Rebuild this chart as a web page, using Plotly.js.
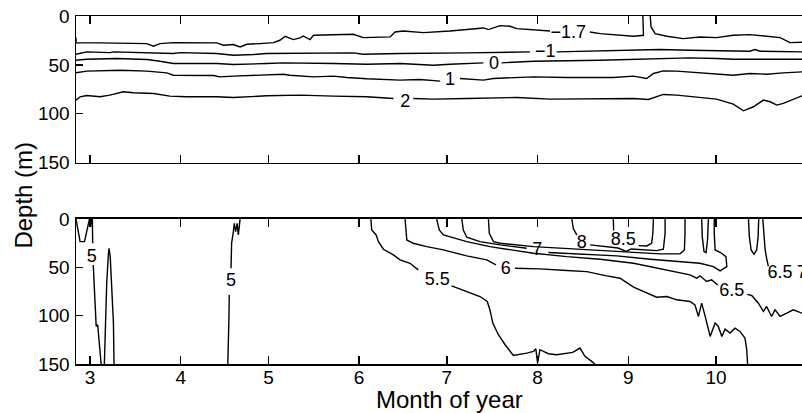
<!DOCTYPE html>
<html>
<head>
<meta charset="utf-8">
<script src="https://cdn.plot.ly/plotly-3.0.1.min.js"></script>
<style>html,body{margin:0;padding:0;background:#fff;overflow:hidden;}#chart{width:802px;height:413px;}</style>
</head>
<body>
<div id="chart"></div>
<script>
// Tick labels: month of year, placed at the day-of-year of each month's first day
const monthLabels = ['3','4','5','6','7','8','9','10'];
const monthStartDoy = [60,91,121,152,182,213,244,274];
const depthTicks = [0,50,100,150];

// ---- Upper panel contours (x: day of year, y: depth m) ----
const topM17Doy = [55.2,55.2,63.4,79.4,81.7,83.9,88.5,103.3,105.6,109.0,111.3,113.6,118.1,122.7,124.9,126.7,129.5,131.8,132.9,135.2,136.4,142.1,150.0,153.4,162.6,164.3,167.1,174.0,183.1,194.5,196.2,200.2,203.6,205.9,217.3,null,230.9,234.4,245.8,249.2,249.0,null,251.5,251.8,253.2,257.2,262.8,268.5,274.2,279.9,285.6,291.3,295.9,299.3,303.4];
const topM17Depth = [22.1,27.5,27.5,28.2,30.9,28.2,27.2,27.5,29.9,29.2,31.6,28.9,28.2,27.2,24.8,20.7,24.1,22.4,20.4,24.1,19.7,19.0,18.7,22.1,21.4,16.3,15.3,17.0,15.3,12.2,13.9,9.8,10.5,12.9,15.3,null,16.3,18.0,20.7,19.7,0,null,0,11.2,18.0,20.7,23.1,21.4,22.1,19.7,19.0,20.4,22.1,27.2,26.8];

const topM1Doy = [55.2,58.9,66.8,68.0,88.5,90.8,103.3,109.0,115.8,120.4,150.0,153.4,166.0,177.4,188.8,210.4,null,219.5,234.4,245.8,254.9,265.1,274.2,285.6,287.3,289.1,303.4];
const topM1Depth = [39.1,36.7,37.4,36.7,38.4,37.4,38.4,40.1,39.4,38.4,37.7,39.1,38.4,37.7,37.7,36.7,null,36.7,36.0,35.0,34.3,35.0,35.7,36.0,34.3,36.0,36.7];

const top0Doy = [55.2,58.9,69.1,79.4,83.9,88.5,103.3,109.0,120.4,126.1,143.2,154.6,166.0,177.4,183.1,194.5,null,200.7,211.6,234.4,245.8,257.2,265.1,274.2,279.9,303.4];
const top0Depth = [45.2,44.2,43.5,44.5,46.2,48.6,48.6,49.6,48.6,47.9,48.6,49.3,48.6,50.3,49.3,47.9,null,47.9,46.2,45.2,44.5,43.5,42.8,43.5,44.2,44.2];

const top1Doy = [55.2,58.9,70.3,79.4,86.2,88.5,102.2,104.4,109.0,120.4,126.1,128.4,136.4,143.2,147.8,154.6,166.0,172.8,179.7,null,186.5,194.5,197.9,211.6,223.0,238.9,245.8,250.3,252.6,256.0,260.6,268.5,279.9,285.6,291.3,297.0,303.4];
const top1Depth = [58.1,56.4,55.4,56.4,58.1,60.5,60.8,62.2,61.5,60.5,59.5,60.5,62.2,61.5,62.9,64.2,65.6,64.9,66.6,null,63.9,65.6,63.9,62.2,62.9,62.9,61.5,63.9,58.8,56.1,56.4,57.8,60.5,58.8,59.5,58.1,57.1];

const top2Doy = [55.2,56.6,58.9,63.4,66.8,71.4,74.8,81.7,87.3,93.0,103.3,109.0,120.4,131.8,143.2,154.6,163.7,null,170.5,177.4,188.8,205.9,217.3,241.2,245.8,250.9,256.0,260.6,266.3,274.2,279.9,283.4,286.8,289.1,290.2,292.5,294.8,297.0,303.4];
const top2Depth = [86.0,82.6,81.3,82.6,80.9,77.5,78.5,79.2,81.9,82.6,82.6,83.3,81.6,80.9,81.9,82.6,84.3,null,84.3,85.0,84.3,83.3,85.0,85.0,84.3,85.3,80.2,80.9,82.6,85.0,90.1,96.9,92.8,87.7,86.0,87.7,91.1,89.4,81.6];

const topLabelText = ['\u22121.7','\u22121','0','1','2'];
const topLabelDoy = [223.5,215.6,198.1,183.1,167.8];
const topLabelDepth = [18.0,37.6,49.3,66.3,88.4];

// ---- Lower panel contours ----
const b5Doy = [55.2,56.0,56.6,58.1,59.1,59.8,null,60.1,60.3,60.6,null,60.8,60.9,null,61.1,61.7,62.1,62.6,63.1,63.8,null,64.9,65.2,65.7,66.3,66.5,66.9,67.5,68.0,68.2,null,107.1,107.3,107.5,107.6,null,108.2,108.4,109.0,109.3,109.8,110.3,110.7,110.9,111.3];
const b5Depth = [0,11.4,23.4,23.4,11.4,0,null,0,7.9,0,null,0,25.0,null,47.5,83.6,111.1,109.4,128.3,150,null,150,111.1,66.4,35.4,30.3,38.9,76.7,107.7,150,null,150,131.8,100.8,78.5,null,50.9,25.1,13.1,4.5,13.1,4.5,16.5,7.9,0];

const b55Doy = [156.0,156.3,157.8,158.6,160.3,163.7,166.0,169.4,172.2,null,183.6,188.8,193.3,195.8,196.7,197.7,199.6,201.9,204.7,209.3,211.6,212.4,213.0,213.8,216.7,219.5,223.0,225.0,227.5,229.2,231.5,232.6];
const b55Depth = [0,11.4,16.5,23.4,31.3,37.2,42.3,45.8,52.6,null,69.2,75.0,80.2,85.3,93.9,107.7,119.7,130.1,141.1,138.7,137.0,134.2,149.0,135.2,139.4,140.4,138.7,138.0,133.5,142.1,147.3,150];

const b6Doy = [167.7,168.3,170.5,175.1,180.8,188.8,195.6,198.8,null,205.3,213.8,223.0,229.8,236.6,241.2,245.8,250.3,253.7,257.2,260.6,265.1,266.8,268.0,269.1,270.3,272.0,273.7,274.8,276.0,277.1,278.8,280.5,282.2,283.9,284.5,284.8];
const b6Depth = [0,21.7,25.1,28.6,32.0,38.2,42.3,47.5,null,50.9,51.6,53.3,54.4,58.8,61.3,70.5,76.7,80.9,80.2,83.6,85.3,88.8,100.8,87.1,100.8,121.5,107.7,111.1,121.5,113.9,118.0,112.9,116.3,123.2,135.2,150];

const b65Doy = [178.5,179.4,180.8,188.8,196.7,203.6,211.6,223.0,234.4,245.8,257.2,265.1,267.4,268.5,270.8,272.5,274.6,null,284.7,286.2,288.5,290.2,291.3,293.0,294.2,295.9,298.2,300.4,303.4,null,290.0,290.4,290.8,291.4,291.9];
const b65Depth = [0,11.4,16.5,23.4,28.6,32.0,35.4,38.9,41.6,45.8,52.6,57.8,61.3,58.8,64.7,63.0,68.3,null,78.0,79.1,87.1,95.7,90.5,100.8,93.9,100.8,97.4,93.9,97.4,null,0,18.2,32.0,42.0,49.0];

const b7Doy = [187.1,187.6,188.8,193.3,200.2,209.3,null,216.7,228.7,240.1,251.5,262.8,268.5,273.1,275.4,277.7,277.4,275.4,273.7,273.4,273.4,null,269.1,269.3,269.9,270.6,271.1,271.4,null,285.1,285.4,286.0,287.0,287.9,288.4,288.6];
const b7Depth = [0,11.4,18.9,23.4,26.8,30.3,null,34.7,36.1,38.2,41.6,44.0,45.8,49.2,53.7,49.2,38.9,34.4,32.0,14.8,0,null,0,18.2,33.7,34.8,21.7,0,null,0,18.2,32.0,36.5,32.0,18.2,0];

const b75Doy = [196.2,196.5,197.9,200.2,211.6,223.0,234.4,245.8,254.9,261.7,263.2,263.4,263.4];
const b75Depth = [0,14.8,23.4,25.1,28.6,30.6,32.7,34.8,36.1,36.1,32.0,14.8,0];

const b8Doy = [224.7,225.2,226.4,null,231.0,236.6,240.5,243.3,245.0,253.7,256.0,256.6,256.6];
const b8Depth = [0,9.6,16.5,null,26.8,28.6,30.0,33.5,31.0,32.7,31.3,14.8,0];

const b85Doy = [238.9,239.0,null,247.5,250.3,252.0,252.4,252.6];
const b85Depth = [0,12.0,null,27.5,27.9,25.1,14.8,0];

const botLabelText = ['5','5','5.5','6','7','8','8.5','6.5','6.5','7'];
const botLabelDoy = [60.6,108.2,178.7,202.1,212.9,228.1,242.3,279.4,295.9,303.4];
const botLabelDepth = [39.9,64.3,64.0,52.6,32.7,25.8,22.4,75.0,56.1,56.1];

const FONT = '"Liberation Sans", Arial, Helvetica, sans-serif';
const lineStyle = {color:'#000', width:1.4};

function contour(x, y, xa, ya) {
  return {type:'scatter', mode:'lines', x:x, y:y, xaxis:xa, yaxis:ya,
          line:lineStyle, connectgaps:false, hoverinfo:'skip', showlegend:false};
}
function labels(t, x, y, xa, ya) {
  return {type:'scatter', mode:'text', x:x, y:y, text:t, xaxis:xa, yaxis:ya,
          textposition:'middle center', textfont:{family:FONT, size:18, color:'#000'},
          hoverinfo:'skip', showlegend:false, cliponaxis:false};
}

const data = [
  contour(topM17Doy, topM17Depth, 'x2', 'y2'),
  contour(topM1Doy, topM1Depth, 'x2', 'y2'),
  contour(top0Doy, top0Depth, 'x2', 'y2'),
  contour(top1Doy, top1Depth, 'x2', 'y2'),
  contour(top2Doy, top2Depth, 'x2', 'y2'),
  labels(topLabelText, topLabelDoy, topLabelDepth, 'x2', 'y2'),
  contour(b5Doy, b5Depth, 'x', 'y'),
  contour(b55Doy, b55Depth, 'x', 'y'),
  contour(b6Doy, b6Depth, 'x', 'y'),
  contour(b65Doy, b65Depth, 'x', 'y'),
  contour(b7Doy, b7Depth, 'x', 'y'),
  contour(b75Doy, b75Depth, 'x', 'y'),
  contour(b8Doy, b8Depth, 'x', 'y'),
  contour(b85Doy, b85Depth, 'x', 'y'),
  labels(botLabelText, botLabelDoy, botLabelDepth, 'x', 'y')
];

const xCommon = {
  range:[55.2,303.4], tickmode:'array', tickvals:monthStartDoy, ticktext:monthLabels,
  ticks:'inside', ticklen:8, tickwidth:1.3, tickcolor:'#000',
  showline:true, linecolor:'#000', linewidth:1.5, mirror:'ticks',
  showgrid:false, zeroline:false, fixedrange:true,
  tickfont:{family:FONT, size:19, color:'#000'}
};
const yCommon = {
  range:[150,0], tickmode:'array', tickvals:depthTicks,
  ticks:'inside', ticklen:7, tickwidth:1.3, tickcolor:'#000',
  showline:true, linecolor:'#000', linewidth:1.5, mirror:false,
  showgrid:false, zeroline:false, fixedrange:true,
  tickfont:{family:FONT, size:19, color:'#000'}
};

const layout = {
  width:802, height:413,
  margin:{l:76, r:0, t:16, b:49, pad:0},
  paper_bgcolor:'#fff', plot_bgcolor:'#fff',
  showlegend:false,
  xaxis: Object.assign({}, xCommon, {anchor:'y', domain:[0,1], ticklabelstandoff:-4}),
  xaxis2: Object.assign({}, xCommon, {anchor:'y2', domain:[0,1], showticklabels:false}),
  yaxis: Object.assign({}, yCommon, {anchor:'x', domain:[0,0.4167], ticklabelstandoff:1}),
  yaxis2: Object.assign({}, yCommon, {anchor:'x2', domain:[0.5784,1], ticklabelstandoff:1}),
  annotations:[
    {text:'Month of year', xref:'paper', yref:'paper', x:0.5138, y:-0.101,
     xanchor:'center', yanchor:'middle', showarrow:false,
     font:{family:FONT, size:24, color:'#000'}},
    {text:'Depth (m)', xref:'paper', yref:'paper', x:-0.0716, y:0.484,
     xanchor:'center', yanchor:'middle', textangle:-90, showarrow:false,
     font:{family:FONT, size:24, color:'#000'}}
  ]
};

Plotly.newPlot('chart', data, layout, {staticPlot:true, displayModeBar:false});
</script>
</body>
</html>
